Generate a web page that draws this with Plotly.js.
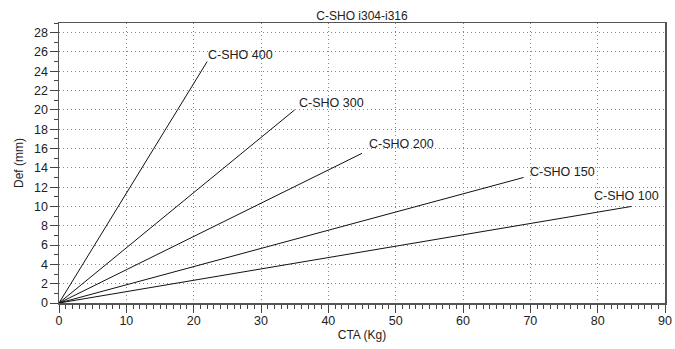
<!DOCTYPE html>
<html>
<head>
<meta charset="utf-8">
<script src="https://cdn.plot.ly/plotly-3.0.1.min.js"></script>
<style>html,body{margin:0;padding:0;background:#fff;}#chart{width:675px;height:349px;}</style>
</head>
<body>
<div id="chart"></div>
<script>
// Series: each line runs from origin to its end point
const seriesNames = ["C-SHO 400", "C-SHO 300", "C-SHO 200", "C-SHO 150", "C-SHO 100"];
const startCTA = [0, 0, 0, 0, 0];
const startDef = [0, 0, 0, 0, 0];
const endCTA = [22, 35, 45, 69, 85];
const endDef = [25, 20, 15.5, 13, 10];

// label offsets (pixels) relative to line end
const labelDX = [-1, 2, 5, 4, -5];
const labelDY = [-7, -7, -9, -5, -10];
const labelAnchor = ["left", "left", "left", "left", "center"];

const fontFam = "Liberation Sans, Arial, sans-serif";

const traces = seriesNames.map((name, i) => ({
  type: "scatter",
  mode: "lines",
  name: name,
  x: [startCTA[i], endCTA[i]],
  y: [startDef[i], endDef[i]],
  line: {color: "#111", width: 1},
  hoverinfo: "skip",
  showlegend: false
}));

const annotations = seriesNames.map((name, i) => ({
  x: endCTA[i],
  y: endDef[i],
  xref: "x",
  yref: "y",
  text: name,
  showarrow: false,
  xanchor: labelAnchor[i],
  yanchor: "middle",
  xshift: labelDX[i],
  yshift: -labelDY[i],
  font: {family: fontFam, size: 12.5, color: "#222"}
}));

const layout = {
  width: 675,
  height: 349,
  margin: {l: 59, r: 10, t: 23, b: 46},
  paper_bgcolor: "#fff",
  plot_bgcolor: "#fff",
  font: {family: fontFam, size: 12, color: "#222"},
  title: {text: "C-SHO i304-i316", x: 0.5, xref: "paper", xanchor: "center", y: 1, yref: "paper", yanchor: "bottom", pad: {b: 3}, font: {family: fontFam, size: 12, color: "#222"}},
  xaxis: {
    range: [0, 90],
    dtick: 10,
    tick0: 0,
    ticks: "outside",
    ticklen: 8,
    tickwidth: 1,
    tickcolor: "#444",
    ticklabelstandoff: -3,
    showline: true,
    linecolor: "#555",
    linewidth: 1.5,
    mirror: true,
    showgrid: true,
    gridcolor: "#888",
    griddash: "1px,3px",
    gridwidth: 1,
    zeroline: false,
    tickfont: {family: fontFam, size: 12.5, color: "#222"},
    minor: {dtick: 1, ticks: "outside", ticklen: 4, tickcolor: "#444", showgrid: false},
    title: {text: "CTA (Kg)", standoff: 4, font: {family: fontFam, size: 12, color: "#222"}}
  },
  yaxis: {
    range: [0, 29],
    dtick: 2,
    tick0: 0,
    ticks: "outside",
    ticklen: 8,
    tickwidth: 1,
    tickcolor: "#444",
    ticklabelstandoff: -1,
    showline: true,
    linecolor: "#555",
    linewidth: 1.5,
    mirror: true,
    showgrid: true,
    gridcolor: "#888",
    griddash: "1px,3px",
    gridwidth: 1,
    zeroline: false,
    tickfont: {family: fontFam, size: 12.5, color: "#222"},
    minor: {dtick: 1, ticks: "outside", ticklen: 4, tickcolor: "#444", showgrid: false},
    title: {text: "Def (mm)", standoff: 8, font: {family: fontFam, size: 12, color: "#222"}}
  },
  annotations: annotations,
  showlegend: false
};

Plotly.newPlot("chart", traces, layout, {displayModeBar: false, staticPlot: true});
</script>
</body>
</html>
